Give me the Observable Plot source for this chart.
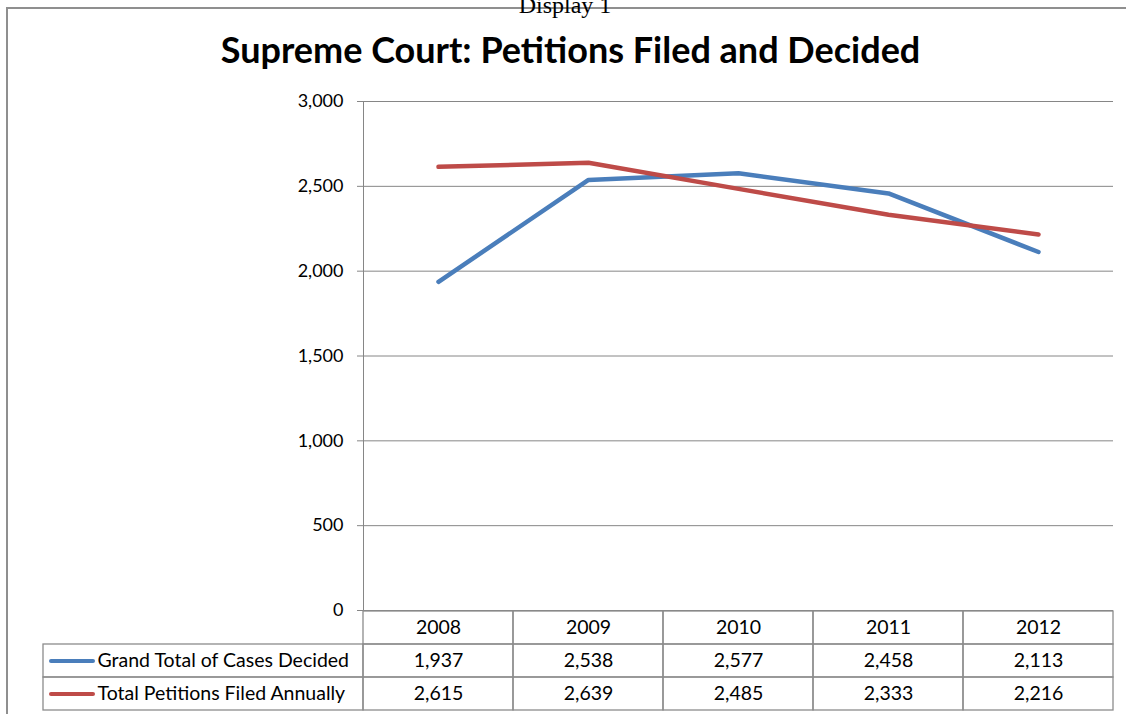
<!DOCTYPE html>
<html><head><meta charset="utf-8">
<script src="https://cdn.jsdelivr.net/npm/d3@7"></script>
<script src="https://cdn.jsdelivr.net/npm/@observablehq/plot@0.6"></script>
<style>
body{margin:0;background:#fff;}
#wrap{position:relative;width:1126px;height:714px;overflow:hidden;font-family:Lato,sans-serif;background:#fff;}
#border{position:absolute;left:6px;top:7px;width:1200px;height:800px;border-left:2px solid #8f8f8f;border-top:2px solid #8f8f8f;}
#display{position:absolute;left:0;width:1130px;text-align:center;top:-7px;font:24px/24px "Liberation Serif",serif;color:#000;}
#title{position:absolute;left:0;width:1141px;text-align:center;top:31px;font:bold 36px/36px Lato,sans-serif;color:#000;white-space:nowrap;}
#chart{position:absolute;left:0;top:90px;}
#table{position:absolute;left:0;top:610px;}
</style></head>
<body><div id="wrap">
<div id="border"></div>
<div id="display">Display 1</div>
<div id="title">Supreme Court: Petitions Filed and Decided</div>
<div id="chart"></div>
<div id="table"></div>
</div>
<script>
const years = ["2008", "2009", "2010", "2011", "2012"];
const decided = [1937, 2538, 2577, 2458, 2113];
const filed = [2615, 2639, 2485, 2333, 2216];
const seriesNames = ["Grand Total of Cases Decided", "Total Petitions Filed Annually"];
const seriesColors = ["#4A7EBB", "#BE4B48"];
const yTicks = [0, 500, 1000, 1500, 2000, 2500, 3000];

const seriesValues = [decided, filed];
const points = seriesNames.flatMap((s, k) => years.map((yr, i) => ({year: yr, series: s, value: seriesValues[k][i]})));
const fmt = d3.format(",");
const tableRows = ["header", ...seriesNames];
const cells = [
  ...years.map(yr => ({year: yr, row: "header", label: yr})),
  ...points.map(p => ({year: p.year, row: p.series, label: fmt(p.value)}))
];

const chart = Plot.plot({
  width: 1126, height: 520,
  marginLeft: 363, marginRight: 13, marginTop: 11, marginBottom: 0,
  style: {background: "none", overflow: "visible", fontFamily: "Lato, sans-serif", fontSize: "18px", color: "#000"},
  x: {type: "band", domain: years, padding: 0, axis: null},
  y: {domain: [0, 3000], axis: null},
  color: {domain: seriesNames, range: seriesColors},
  marks: [
    Plot.ruleY(yTicks, {stroke: "#868686", strokeWidth: 1}),
    Plot.frame({anchor: "left", stroke: "#868686"}),
    Plot.axisY({ticks: yTicks, tickFormat: fmt, tickSize: 6, tickPadding: 14, stroke: "#868686", fill: "#000", label: null, fontSize: 18}),
    Plot.lineY(points, {x: "year", y: "value", stroke: "series", z: "series", strokeWidth: 4.5, strokeLinecap: "round", strokeLinejoin: "round"})
  ]
});
document.getElementById("chart").append(chart);

const table = Plot.plot({
  width: 1126, height: 101,
  marginLeft: 363, marginRight: 13, marginTop: 0, marginBottom: 0,
  style: {background: "none", overflow: "visible", fontFamily: "Lato, sans-serif", fontSize: "19.5px", color: "#000"},
  x: {type: "band", domain: years, padding: 0, axis: null},
  y: {type: "band", domain: tableRows, padding: 0, axis: null},
  color: {domain: seriesNames, range: seriesColors},
  marks: [
    Plot.cell(cells, {x: "year", y: "row", stroke: "#8c8c8c", strokeWidth: 1.3, fill: "none", inset: 0}),
    Plot.cell(seriesNames, {y: d => d, stroke: "#8c8c8c", strokeWidth: 1.3, fill: "none", insetLeft: -320, insetRight: 750}),
    Plot.ruleY(seriesNames, {y: d => d, stroke: d => d, strokeWidth: 4, strokeLinecap: "round", insetLeft: -312, insetRight: 1020}),
    Plot.text(seriesNames, {y: d => d, text: d => d, frameAnchor: "left", textAnchor: "start", dx: -266, fill: "#000"}),
    Plot.text(cells, {x: "year", y: "row", text: "label", fill: "#000"})
  ]
});
document.getElementById("table").append(table);
</script>
</body></html>
